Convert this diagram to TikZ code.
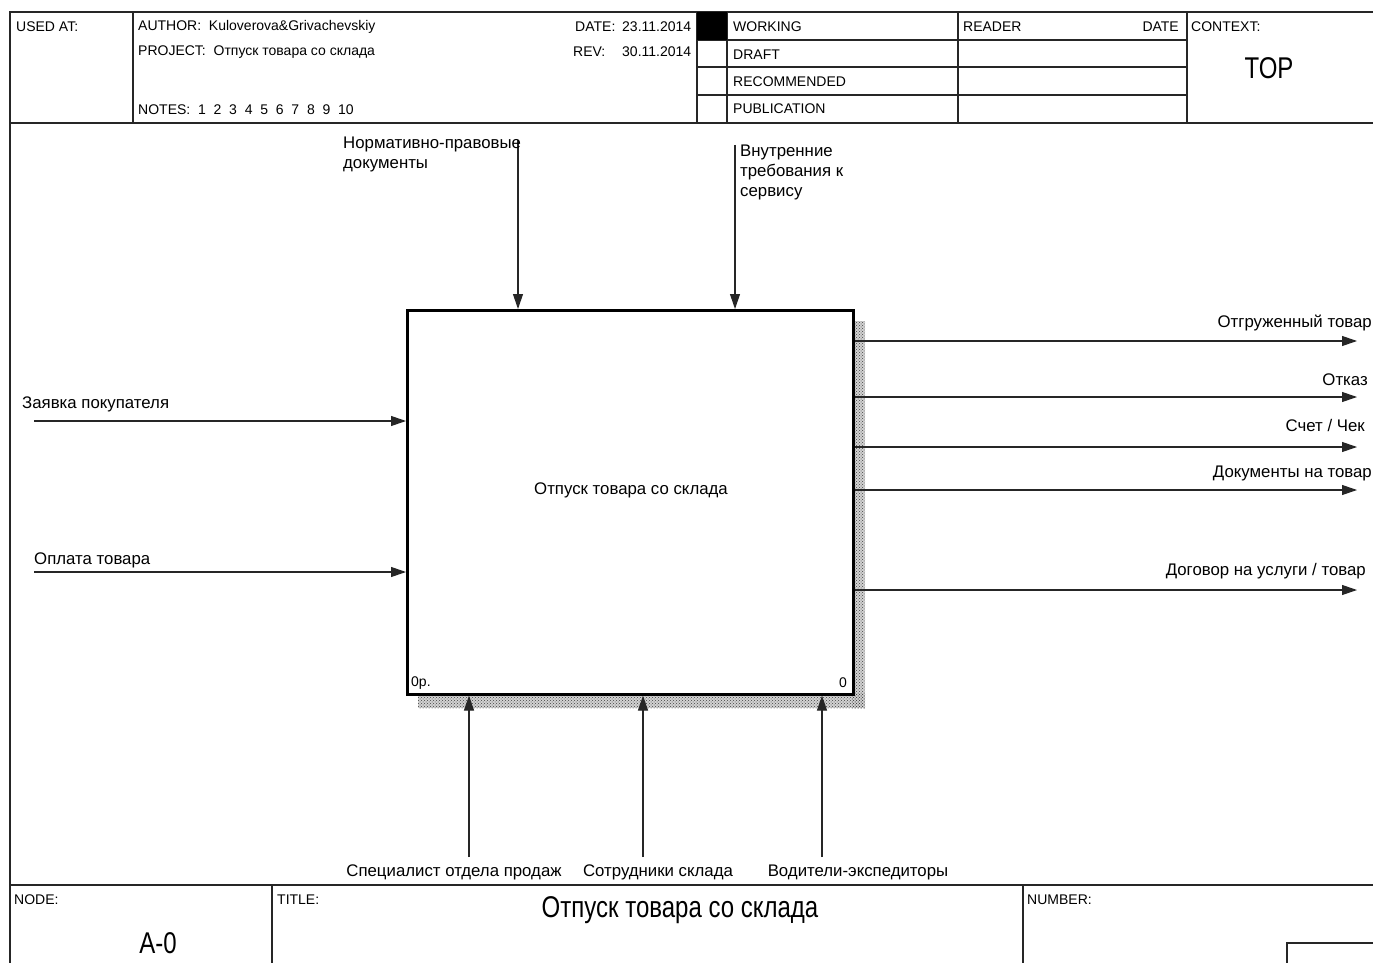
\documentclass[tikz,border=0pt]{standalone}
\usepackage{fontspec}
\setmainfont{Liberation Sans}
\newfontfamily\narrowfont[FakeStretch=0.8]{Liberation Sans}
\usetikzlibrary{arrows.meta,patterns}
\begin{document}
\begin{tikzpicture}[x=1pt,y=-1pt,
  frame/.style={line width=1.3pt, black!85},
  lbl/.style={font=\fontsize{16.8}{20}\selectfont, inner sep=0pt},
  hdr/.style={font=\fontsize{14}{16}\selectfont, inner sep=0pt},
  big/.style={font=\narrowfont\fontsize{30}{34}\selectfont, inner sep=0pt},
  arr/.style={-{Triangle[length=15pt,width=10pt]}, line width=1.1pt, black!85},
  funcbox/.style={draw, line width=2.6pt, minimum width=446pt, minimum height=384pt, inner sep=0pt, anchor=north west},
  shadowbase/.style={fill=gray!35},
  shadow/.style={pattern=crosshatch dots, pattern color=black!75}
]
\useasboundingbox (0,0) rectangle (1373,963);
\fill[white] (0,0) rectangle (1373,963);

% ---------- frame and header ----------
\draw[frame] (1373,12) -- (10,12) -- (10,963);
\draw[frame] (10,123) -- (1373,123);
\draw[frame] (133,12) -- (133,123);
\draw[frame] (697,12) -- (697,123);
\draw[frame] (727,12) -- (727,123);
\draw[frame] (958,12) -- (958,123);
\draw[frame] (1187,12) -- (1187,123);
\foreach \yy in {40,67,95} \draw[frame] (697,\yy) -- (1187,\yy);
\fill[black] (697,12) rectangle (727,40);

\node[hdr, anchor=west] (usedat) at (16,27) {USED AT:};
\node[hdr, anchor=west] (author) at (138,27) {AUTHOR:\ \ Kuloverova\&Grivachevskiy};
\node[hdr, anchor=west] (project) at (138,52) {PROJECT:\ \ Отпуск товара со склада};
\node[hdr, anchor=west] (notes) at (138,110) {NOTES:\ \ 1\ \ 2\ \ 3\ \ 4\ \ 5\ \ 6\ \ 7\ \ 8\ \ 9\ \ 10};
\node[hdr, anchor=west] (datel) at (575,27) {DATE:};
\node[hdr, anchor=west] (datev) at (622,27) {23.11.2014};
\node[hdr, anchor=west] (revl) at (573,52) {REV:};
\node[hdr, anchor=west] (revv) at (622,52) {30.11.2014};
\node[hdr, anchor=west] (working) at (733,27) {WORKING};
\node[hdr, anchor=west] (draft) at (733,55) {DRAFT};
\node[hdr, anchor=west] (recom) at (733,82) {RECOMMENDED};
\node[hdr, anchor=west] (public) at (733,109) {PUBLICATION};
\node[hdr, anchor=west] (reader) at (963,27) {READER};
\node[hdr, anchor=east] (rdate) at (1179,27) {DATE};
\node[hdr, anchor=west] (context) at (1191,27) {CONTEXT:};
\node[big] (top) at (1269,68) {TOP};

% ---------- footer ----------
\draw[frame] (10,885) -- (1373,885);
\draw[frame] (272,885) -- (272,963);
\draw[frame] (1023,885) -- (1023,963);
\draw[frame] (1373,943) -- (1287,943) -- (1287,963);
\node[hdr, anchor=west] (nodel) at (14,900) {NODE:};
\node[big] (nodev) at (158,943) {A-0};
\node[hdr, anchor=west] (titlel) at (277,900) {TITLE:};
\node[big] (titlev) at (680,910) {Отпуск товара со склада};
\node[hdr, anchor=west] (numberl) at (1027,900) {NUMBER:};

% ---------- function box ----------
\fill[shadowbase] (852,321) rectangle (865,708);
\fill[shadowbase] (418,693) rectangle (865,708);
\fill[shadow] (852,321) rectangle (865,708);
\fill[shadow] (418,693) rectangle (865,708);
\node[funcbox, fill=white] (A0) at (406,309) {};
\node[lbl] (A0t) at (631,490) {Отпуск товара со склада};
\node[hdr, anchor=west] (A0c) at (411,683) {0р.};
\node[hdr, anchor=east] (A0n) at (847,683) {0};

% ---------- controls ----------
\coordinate (c1) at (518,140);
\coordinate (c2) at (735,145);
\draw[arr] (c1) -- (c1 |- A0.north);
\draw[arr] (c2) -- (c2 |- A0.north);
\node[lbl, anchor=north west, align=left] (c1t) at (343,137) {Нормативно-правовые\\документы};
\node[lbl, anchor=north west, align=left] (c2t) at (740,145) {Внутренние\\требования к\\сервису};

% ---------- inputs ----------
\coordinate (i1) at (34,421);
\coordinate (i2) at (34,572);
\draw[arr] (i1) -- (i1 -| A0.west);
\draw[arr] (i2) -- (i2 -| A0.west);
\node[lbl, anchor=west] (i1t) at (22,404) {Заявка покупателя};
\node[lbl, anchor=west] (i2t) at (34,560) {Оплата товара};

% ---------- outputs ----------
\coordinate (o1) at (1357,341);
\coordinate (o2) at (1357,397);
\coordinate (o3) at (1357,447);
\coordinate (o4) at (1357,490);
\coordinate (o5) at (1357,590);
\foreach \o in {o1,o2,o3,o4,o5} \draw[arr] (A0.east |- \o) -- (\o);
\node[lbl, anchor=east] (o1t) at (1372,323) {Отгруженный товар};
\node[lbl, anchor=east] (o2t) at (1368,380) {Отказ};
\node[lbl, anchor=east] (o3t) at (1365,425) {Счет / Чек};
\node[lbl, anchor=east] (o4t) at (1372,473) {Документы на товар};
\node[lbl, anchor=east] (o5t) at (1366,571) {Договор на услуги / товар};

% ---------- mechanisms ----------
\coordinate (m1) at (469,857);
\coordinate (m2) at (643,857);
\coordinate (m3) at (822,857);
\draw[arr] (m1) -- (m1 |- A0.south);
\draw[arr] (m2) -- (m2 |- A0.south);
\draw[arr] (m3) -- (m3 |- A0.south);
\node[lbl] (m1t) at (454,872) {Специалист отдела продаж};
\node[lbl] (m2t) at (658,872) {Сотрудники склада};
\node[lbl] (m3t) at (858,872) {Водители-экспедиторы};
\end{tikzpicture}
\end{document}
